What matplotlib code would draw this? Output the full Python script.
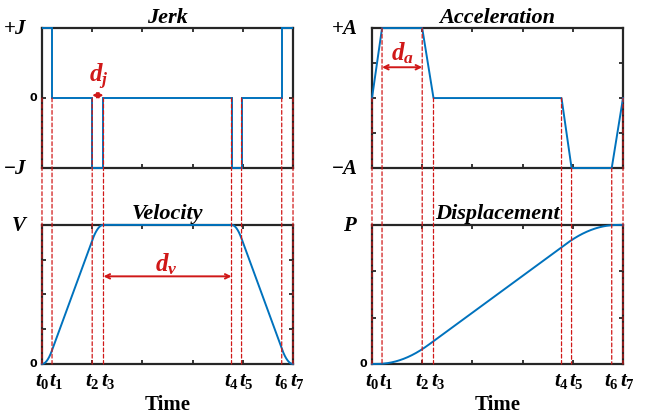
import matplotlib
matplotlib.use("Agg")
import matplotlib.pyplot as plt
import numpy as np
from matplotlib.patches import ConnectionPatch

plt.rcParams['mathtext.fontset'] = 'custom'
plt.rcParams['mathtext.rm'] = 'Liberation Serif:bold'
plt.rcParams['mathtext.it'] = 'Liberation Serif:bold:italic'
plt.rcParams['mathtext.bf'] = 'Liberation Serif:bold'

# switching instants t0..t7 (normalised time) and the profile levels
t_switch = [0.0, 0.04, 0.2, 0.245, 0.755, 0.795, 0.955, 1.0]
t_labels = ['$t_0$', '$t_1$', '$t_2$', '$t_3$', '$t_4$', '$t_5$', '$t_6$', '$t_7$']
jerk_levels = [1, 0, -1, 0, -1, 0, 1]          # +J / 0 / -J per segment
acc_levels = [0, 1, 1, 0, 0, -1, -1, 0]        # +A / 0 / -A at each t_i

BLUE = '#0072BD'
RED = '#D01818'
DARK = '#262626'
SERIF = 'Liberation Serif'

# velocity and displacement follow from the acceleration profile
tt = np.linspace(0, 1, 2001)
acc = np.interp(tt, t_switch, acc_levels)
vel = np.concatenate([[0], np.cumsum((acc[1:] + acc[:-1]) / 2 * np.diff(tt))])
vel = np.clip(vel / vel.max(), 0, 1)
pos = np.concatenate([[0], np.cumsum((vel[1:] + vel[:-1]) / 2 * np.diff(tt))])
pos = pos / pos[-1]

fig = plt.figure(figsize=(6.5, 4.19), dpi=100)
ax_j = fig.add_axes([0.0646, 0.599, 0.3862, 0.334])
ax_a = fig.add_axes([0.5723, 0.599, 0.3862, 0.334])
ax_v = fig.add_axes([0.0646, 0.1313, 0.3862, 0.332])
ax_p = fig.add_axes([0.5723, 0.1313, 0.3862, 0.332])


def style_axes(ax, title, yticks, ylabels):
    ax.set_xlim(0, 1)
    ax.set_ylim(yticks[0], yticks[-1])
    ax.set_xticks(np.arange(0, 1.01, 0.2))
    ax.set_yticks(yticks)
    ax.tick_params(direction='in', length=3, width=1.3, color=DARK,
                   top=True, right=True, labelbottom=False, labelleft=False)
    for sp in ax.spines.values():
        sp.set_linewidth(1.6)
        sp.set_color(DARK)
    ax.set_title(title, fontsize=16, fontweight='bold', fontstyle='italic',
                 family=SERIF, pad=4)
    for y, lab in zip(yticks, ylabels):
        if lab == '0':
            ax.text(-0.018, y, '0', transform=ax.get_yaxis_transform(),
                    ha='right', va='center', fontsize=8, fontweight='bold')
        elif lab:
            ax.text(-0.055, y, lab, transform=ax.get_yaxis_transform(),
                    ha='right', va='center', fontsize=15)


style_axes(ax_j, 'Jerk', [-1, 0, 1], ['$-J$', '0', '$+J$'])
style_axes(ax_a, 'Acceleration', [-1, -0.5, 0, 0.5, 1], ['$-A$', '', '', '', '$+A$'])
style_axes(ax_v, 'Velocity', [0, 0.25, 0.5, 0.75, 1], ['0', '', '', '', '$V$'])
style_axes(ax_p, 'Displacement', [0, 1 / 3, 2 / 3, 1], ['0', '', '', '$P$'])

ax_j.stairs(jerk_levels, t_switch, baseline=None, color=BLUE, lw=1.4,
            clip_on=False, zorder=3)
ax_a.plot(t_switch, acc_levels, color=BLUE, lw=1.4, clip_on=False, zorder=3)
ax_v.plot(tt, vel, color=BLUE, lw=1.4, clip_on=False, zorder=3)
ax_p.plot(tt, pos, color=BLUE, lw=1.4, clip_on=False, zorder=3)

# time labels under the bottom plots
for ax in (ax_v, ax_p):
    for i, (t, lab) in enumerate(zip(t_switch, t_labels)):
        dx = 0.018 if i % 2 else 0.0
        ax.text(t + dx, -0.125, lab, transform=ax.get_xaxis_transform(),
                ha='center', va='center', fontsize=15)
    ax.text(0.5, -0.295, 'Time', transform=ax.transAxes, ha='center',
            va='center', fontsize=15, fontweight='bold', family=SERIF)

# red dashed guide lines from the upper curves to the lower axes
for t, a in zip(t_switch, acc_levels):
    for top, bottom, y0 in ((ax_j, ax_v, 0), (ax_a, ax_p, a)):
        con = ConnectionPatch(xyA=(t, y0), coordsA=top.transData,
                              xyB=(t, 0), coordsB=bottom.transData,
                              color=RED, lw=0.9, linestyle=(0, (3, 2)),
                              zorder=5)
        fig.add_artist(con)

# duration arrows
arrow = dict(arrowstyle='<->', color=RED, lw=1.4, shrinkA=0, shrinkB=0,
             mutation_scale=8)
ax_j.annotate('', xy=(t_switch[3], 0.04), xytext=(t_switch[2], 0.04), arrowprops=arrow)
ax_j.text(0.225, 0.3, '$d_j$', color=RED, fontsize=18, ha='center', va='center')
ax_a.annotate('', xy=(t_switch[2], 0.44), xytext=(t_switch[1], 0.44), arrowprops=arrow)
ax_a.text(0.12, 0.64, '$d_a$', color=RED, fontsize=18, ha='center', va='center')
ax_v.annotate('', xy=(t_switch[4], 0.63), xytext=(t_switch[3], 0.63), arrowprops=arrow)
ax_v.text(0.495, 0.72, '$d_v$', color=RED, fontsize=18, ha='center', va='center')

fig.savefig('out.png', dpi=100)
